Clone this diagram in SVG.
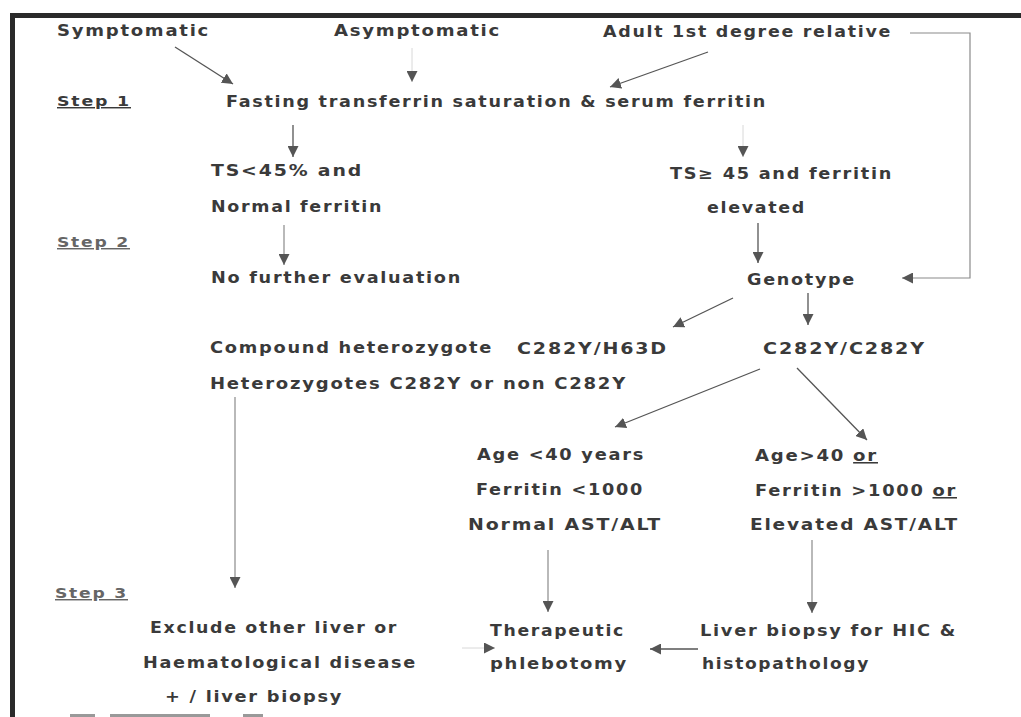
<svg xmlns="http://www.w3.org/2000/svg" width="1021" height="717" viewBox="0 0 1021 717">
<defs>
<style>
text{font-family:"DejaVu Sans","Verdana",sans-serif;font-weight:bold;font-size:15.5px;letter-spacing:1.5px;fill:#3a3a3a}
.step{fill:#666;font-size:14.5px;text-decoration:underline}
.c{fill:none;stroke:#555;stroke-width:1.3}
.f{fill:none;stroke:#d8d8d8;stroke-width:1}
.l{fill:none;stroke:#8a8a8a;stroke-width:1.2}
</style>
<marker id="ah" viewBox="0 0 10 10" refX="10" refY="5" markerWidth="11" markerHeight="11" markerUnits="userSpaceOnUse" orient="auto">
<path d="M0,0 L10,5 L0,10 z" fill="#555"/>
</marker>
</defs>
<rect width="1021" height="717" fill="#fff"/>
<g id="frame">
<rect x="10" y="13" width="1011" height="5" fill="#2a2a2a"/>
<rect x="10" y="13" width="5" height="704" fill="#2a2a2a"/>
<rect x="70" y="714" width="25" height="3" fill="#999"/>
<rect x="110" y="714" width="100" height="3" fill="#999"/>
<rect x="243" y="714" width="20" height="3" fill="#999"/>
</g>
<g id="steps">
<text class="step" x="57" y="106" textLength="74" lengthAdjust="spacingAndGlyphs" style="fill:#3a3a3a">Step 1</text>
<text class="step" x="57" y="247" textLength="73" lengthAdjust="spacingAndGlyphs">Step 2</text>
<text class="step" x="55" y="598" textLength="73" lengthAdjust="spacingAndGlyphs">Step 3</text>
</g>
<g id="n-symptomatic"><text x="57" y="36" textLength="153" lengthAdjust="spacingAndGlyphs">Symptomatic</text></g>
<g id="n-asymptomatic"><text x="334" y="36" textLength="167" lengthAdjust="spacingAndGlyphs">Asymptomatic</text></g>
<g id="n-relative"><text x="603" y="37" textLength="289" lengthAdjust="spacingAndGlyphs">Adult 1st degree relative</text></g>
<g id="n-fasting"><text x="226" y="107" textLength="541" lengthAdjust="spacingAndGlyphs">Fasting transferrin saturation &amp; serum ferritin</text></g>
<g id="n-ts-low">
<text x="211" y="176" textLength="152" lengthAdjust="spacingAndGlyphs">TS&lt;45% and</text>
<text x="211" y="212" textLength="172" lengthAdjust="spacingAndGlyphs">Normal ferritin</text>
</g>
<g id="n-ts-high">
<text x="670" y="179" textLength="223" lengthAdjust="spacingAndGlyphs">TS≥ 45 and ferritin</text>
<text x="707" y="213" textLength="99" lengthAdjust="spacingAndGlyphs">elevated</text>
</g>
<g id="n-nofurther"><text x="211" y="283" textLength="251" lengthAdjust="spacingAndGlyphs">No further evaluation</text></g>
<g id="n-genotype"><text x="747" y="285" textLength="109" lengthAdjust="spacingAndGlyphs">Genotype</text></g>
<g id="n-hetero">
<text x="210" y="353" textLength="283" lengthAdjust="spacingAndGlyphs">Compound heterozygote</text>
<text x="517" y="354" textLength="151" lengthAdjust="spacingAndGlyphs">C282Y/H63D</text>
<text x="210" y="389" textLength="417" lengthAdjust="spacingAndGlyphs">Heterozygotes C282Y or non C282Y</text>
</g>
<g id="n-homo"><text x="763" y="354" textLength="163" lengthAdjust="spacingAndGlyphs">C282Y/C282Y</text></g>
<g id="n-low-risk">
<text x="477" y="460" textLength="168" lengthAdjust="spacingAndGlyphs">Age &lt;40 years</text>
<text x="476" y="495" textLength="168" lengthAdjust="spacingAndGlyphs">Ferritin &lt;1000</text>
<text x="468" y="530" textLength="194" lengthAdjust="spacingAndGlyphs">Normal AST/ALT</text>
</g>
<g id="n-high-risk">
<text x="755" y="461" textLength="123" lengthAdjust="spacingAndGlyphs">Age&gt;40 <tspan text-decoration="underline">or</tspan></text>
<text x="755" y="496" textLength="202" lengthAdjust="spacingAndGlyphs">Ferritin &gt;1000 <tspan text-decoration="underline">or</tspan></text>
<text x="750" y="530" textLength="209" lengthAdjust="spacingAndGlyphs">Elevated AST/ALT</text>
</g>
<g id="n-exclude">
<text x="150" y="633" textLength="248" lengthAdjust="spacingAndGlyphs">Exclude other liver or</text>
<text x="143" y="668" textLength="274" lengthAdjust="spacingAndGlyphs">Haematological disease</text>
<text x="165" y="702" textLength="178" lengthAdjust="spacingAndGlyphs">+ /  liver biopsy</text>
</g>
<g id="n-phlebotomy">
<text x="490" y="636" textLength="135" lengthAdjust="spacingAndGlyphs">Therapeutic</text>
<text x="490" y="669" textLength="138" lengthAdjust="spacingAndGlyphs">phlebotomy</text>
</g>
<g id="n-biopsy">
<text x="700" y="636" textLength="257" lengthAdjust="spacingAndGlyphs">Liver biopsy for HIC &amp;</text>
<text x="702" y="669" textLength="168" lengthAdjust="spacingAndGlyphs">histopathology</text>
</g>
<g id="connectors">
<line class="c" x1="175" y1="47" x2="233" y2="84" marker-end="url(#ah)"/>
<line class="f" x1="412" y1="48" x2="412" y2="82" marker-end="url(#ah)"/>
<line class="c" x1="708" y1="52" x2="610" y2="87" marker-end="url(#ah)"/>
<polyline class="l" points="910,33 970,33 970,278 902,278" marker-end="url(#ah)"/>
<line class="c" x1="293" y1="125" x2="293" y2="157" marker-end="url(#ah)"/>
<line class="f" x1="743" y1="125" x2="743" y2="157" marker-end="url(#ah)"/>
<line class="l" x1="284" y1="225" x2="284" y2="265" marker-end="url(#ah)"/>
<line class="c" x1="758" y1="223" x2="758" y2="263" marker-end="url(#ah)"/>
<line class="c" x1="733" y1="298" x2="673" y2="327" marker-end="url(#ah)"/>
<line class="c" x1="808" y1="293" x2="808" y2="325" marker-end="url(#ah)"/>
<line class="l" x1="235" y1="397" x2="235" y2="588" marker-end="url(#ah)"/>
<line class="c" x1="760" y1="369" x2="615" y2="427" marker-end="url(#ah)"/>
<line class="c" x1="797" y1="368" x2="867" y2="440" marker-end="url(#ah)"/>
<line class="l" x1="548" y1="550" x2="548" y2="612" marker-end="url(#ah)"/>
<line class="l" x1="812" y1="540" x2="812" y2="613" marker-end="url(#ah)"/>
<line class="c" x1="698" y1="649" x2="650" y2="649" marker-end="url(#ah)"/>
<line class="f" x1="462" y1="648" x2="495" y2="648" marker-end="url(#ah)"/>
</g>
</svg>
